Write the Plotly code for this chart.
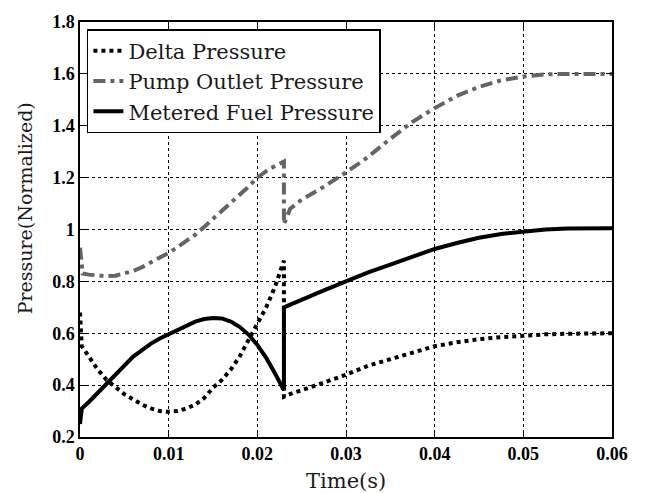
import plotly.graph_objects as go

# Delta Pressure
delta_x = [0, 0.0002, 0.001, 0.002, 0.003, 0.004, 0.005, 0.006, 0.007, 0.008, 0.009, 0.0098, 0.011, 0.012, 0.013, 0.014, 0.015, 0.016, 0.017, 0.018, 0.019, 0.020, 0.021, 0.022, 0.023,
           0.023, 0.024, 0.025, 0.0275, 0.03, 0.0325, 0.035, 0.0375, 0.04, 0.0425, 0.045, 0.0475, 0.05, 0.0525, 0.055, 0.06]
delta_y = [0.68, 0.55, 0.51, 0.46, 0.42, 0.39, 0.365, 0.345, 0.325, 0.31, 0.30, 0.297, 0.30, 0.31, 0.325, 0.35, 0.39, 0.42, 0.46, 0.51, 0.575, 0.635, 0.70, 0.78, 0.88,
           0.355, 0.37, 0.38, 0.41, 0.44, 0.475, 0.50, 0.525, 0.55, 0.565, 0.577, 0.585, 0.592, 0.596, 0.598, 0.60]

# Pump Outlet Pressure
pump_x = [0, 0.0003, 0.001, 0.002, 0.003, 0.004, 0.005, 0.006, 0.007, 0.008, 0.009, 0.010, 0.011, 0.012, 0.013, 0.014, 0.015, 0.016, 0.017, 0.018, 0.019, 0.020, 0.021, 0.022, 0.023,
          0.023, 0.0237, 0.025, 0.0275, 0.03, 0.0325, 0.035, 0.0375, 0.04, 0.0425, 0.045, 0.0475, 0.05, 0.0525, 0.055, 0.06]
pump_y = [0.93, 0.83, 0.826, 0.823, 0.82, 0.822, 0.83, 0.84, 0.855, 0.872, 0.89, 0.91, 0.932, 0.955, 0.98, 1.01, 1.04, 1.07, 1.10, 1.13, 1.165, 1.20, 1.225, 1.245, 1.262,
          1.02, 1.08, 1.115, 1.165, 1.22, 1.28, 1.35, 1.415, 1.468, 1.515, 1.55, 1.575, 1.59, 1.598, 1.60, 1.60]

# Metered Fuel Pressure
meter_x = [0, 0.0002, 0.001, 0.002, 0.003, 0.004, 0.005, 0.006, 0.007, 0.008, 0.009, 0.010, 0.011, 0.012, 0.013, 0.014, 0.015, 0.016, 0.017, 0.018, 0.019, 0.020, 0.021, 0.022, 0.023,
           0.023, 0.024, 0.025, 0.0275, 0.03, 0.0325, 0.035, 0.0375, 0.04, 0.0425, 0.045, 0.0475, 0.05, 0.0525, 0.055, 0.0575, 0.06]
meter_y = [0.25, 0.31, 0.335, 0.37, 0.41, 0.445, 0.48, 0.51, 0.535, 0.56, 0.58, 0.597, 0.615, 0.63, 0.645, 0.655, 0.659, 0.657, 0.645, 0.625, 0.595, 0.555, 0.505, 0.445, 0.38,
           0.70, 0.715, 0.73, 0.765, 0.80, 0.835, 0.865, 0.895, 0.925, 0.948, 0.968, 0.983, 0.993, 1.0, 1.004, 1.005, 1.005]

x_ticks = [0, 0.01, 0.02, 0.03, 0.04, 0.05, 0.06]
x_labels = ["0", "0.01", "0.02", "0.03", "0.04", "0.05", "0.06"]
y_ticks = [0.2, 0.4, 0.6, 0.8, 1.0, 1.2, 1.4, 1.6, 1.8]
y_labels = ["0.2", "0.4", "0.6", "0.8", "1", "1.2", "1.4", "1.6", "1.8"]

x_title = "Time(s)"
y_title = "Pressure(Normalized)"

fig = go.Figure()
fig.add_trace(go.Scatter(x=delta_x, y=delta_y, mode="lines", name="Delta Pressure",
                         line=dict(color="black", width=4, dash="dot")))
fig.add_trace(go.Scatter(x=pump_x, y=pump_y, mode="lines", name="Pump Outlet Pressure",
                         line=dict(color="#646464", width=4, dash="12px,5px,4px,5px")))
fig.add_trace(go.Scatter(x=meter_x, y=meter_y, mode="lines", name="Metered Fuel Pressure",
                         line=dict(color="black", width=4)))

axis_common = dict(
    showline=True, linecolor="black", linewidth=1.5, mirror="ticks",
    ticks="inside", ticklen=6, tickcolor="black",
    showgrid=True, gridcolor="black", gridwidth=1, griddash="3px,3px",
    zeroline=False,
    tickfont=dict(family="Liberation Serif", size=18, color="black", weight="bold"),
)

fig.update_xaxes(range=[0, 0.06], tickvals=x_ticks, ticktext=x_labels, **axis_common)
fig.update_yaxes(range=[0.2, 1.8], tickvals=y_ticks, ticktext=y_labels, **axis_common)

title_font = dict(family="DejaVu Serif", color="#1a1a1a")
fig.add_annotation(text=x_title, xref="paper", yref="paper", x=0.5, y=0,
                   xanchor="center", yanchor="top", yshift=-30, showarrow=False,
                   font=dict(size=21, **title_font))
fig.add_annotation(text=y_title, xref="paper", yref="paper", x=0, y=0.551,
                   xanchor="right", yanchor="middle", xshift=-42, textangle=-90, showarrow=False,
                   font=dict(size=19, **title_font))

fig.update_layout(
    width=645, height=493,
    margin=dict(l=80, r=33, t=18, b=56),
    paper_bgcolor="white", plot_bgcolor="white",
    legend=dict(x=0.013, y=0.983, xanchor="left", yanchor="top",
                bgcolor="white", bordercolor="black", borderwidth=1.5,
                font=dict(family="DejaVu Serif", size=21, color="#1a1a1a"),
                tracegroupgap=0),
    showlegend=True,
)

fig.write_html("out.html")
